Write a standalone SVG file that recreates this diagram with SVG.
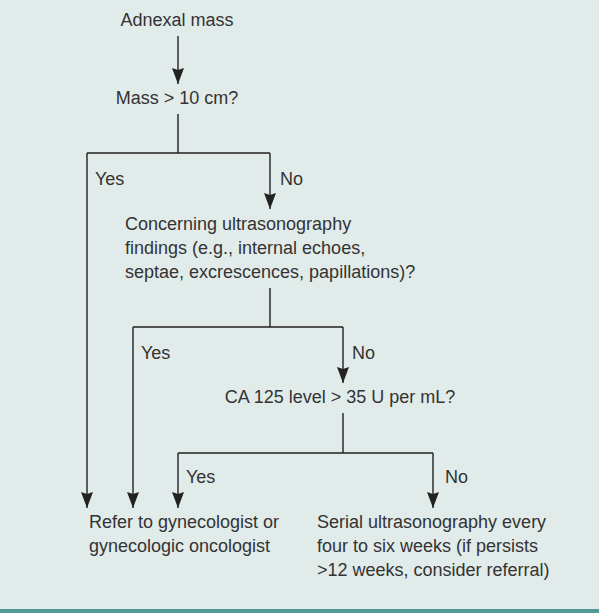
<svg xmlns="http://www.w3.org/2000/svg" width="599" height="613" viewBox="0 0 599 613">
<style>
text{font-family:"Liberation Sans",Arial,sans-serif;font-size:18px;fill:#333}
.c{fill:none;stroke:#222;stroke-width:1.4}
</style>
<defs>
<marker id="ah" viewBox="0 0 16 12" refX="16" refY="6" markerWidth="16" markerHeight="12" markerUnits="userSpaceOnUse" orient="auto">
<path d="M0,0 L16,6 L0,12 L2,6 Z" fill="#222"/>
</marker>
</defs>
<rect width="599" height="613" fill="#e1ebea"/>
<rect x="0" y="609" width="599" height="4" fill="#4f9a94"/>
<g id="connectors">
<path class="c" d="M178,36 V84" marker-end="url(#ah)"/>
<path class="c" d="M178,114 V153 M87,153 H270"/>
<path class="c" d="M87,153 V508" marker-end="url(#ah)"/>
<path class="c" d="M270,153 V209" marker-end="url(#ah)"/>
<path class="c" d="M270,288 V327 M133,327 H343"/>
<path class="c" d="M133,327 V508" marker-end="url(#ah)"/>
<path class="c" d="M343,327 V383" marker-end="url(#ah)"/>
<path class="c" d="M343,413 V453 M178,453 H433"/>
<path class="c" d="M178,453 V508" marker-end="url(#ah)"/>
<path class="c" d="M433,453 V508" marker-end="url(#ah)"/>
</g>
<g id="labels">
<text x="95" y="185">Yes</text>
<text x="280" y="185">No</text>
<text x="141" y="359">Yes</text>
<text x="352" y="359">No</text>
<text x="186" y="483">Yes</text>
<text x="445" y="483">No</text>
</g>
<g id="start"><text x="177" y="26" text-anchor="middle">Adnexal mass</text></g>
<g id="q1"><text x="177" y="104" text-anchor="middle">Mass &gt; 10 cm?</text></g>
<g id="q2"><text x="125" y="230">Concerning ultrasonography</text><text x="125" y="254">findings (e.g., internal echoes,</text><text x="125" y="278">septae, excrescences, papillations)?</text></g>
<g id="q3"><text x="340" y="403" text-anchor="middle">CA 125 level &gt; 35 U per mL?</text></g>
<g id="refer"><text x="89" y="528">Refer to gynecologist or</text><text x="89" y="552">gynecologic oncologist</text></g>
<g id="serial"><text x="317" y="528">Serial ultrasonography every</text><text x="317" y="552">four to six weeks (if persists</text><text x="317" y="576">&gt;12 weeks, consider referral)</text></g>
</svg>
